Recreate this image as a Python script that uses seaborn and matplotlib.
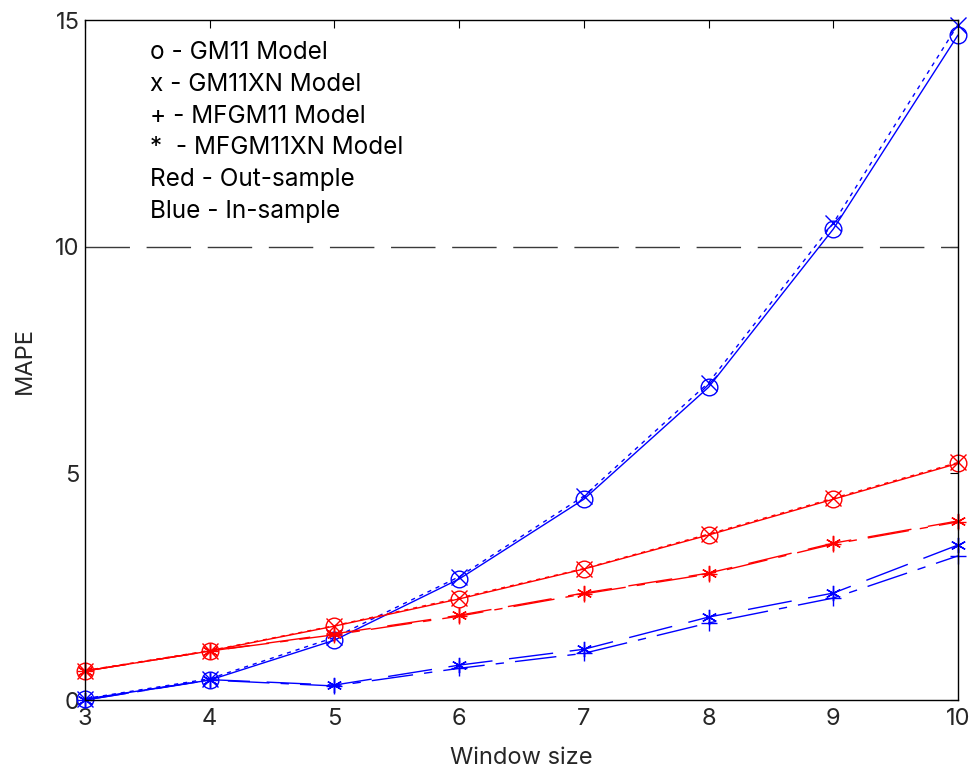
import matplotlib
matplotlib.use("Agg")
import matplotlib.pyplot as plt
import seaborn as sns

# --- Data ---
window = [3, 4, 5, 6, 7, 8, 9, 10]

# in-sample MAPE (blue)
in_gm11 = [0.02, 0.44, 1.32, 2.67, 4.43, 6.90, 10.39, 14.67]
in_gm11xn = [0.03, 0.47, 1.38, 2.72, 4.50, 7.00, 10.52, 14.90]
in_mfgm11 = [0.00, 0.44, 0.31, 0.70, 1.03, 1.70, 2.25, 3.18]
in_mfgm11xn = [0.00, 0.45, 0.33, 0.77, 1.12, 1.83, 2.36, 3.42]

# out-sample MAPE (red)
out_gm11 = [0.64, 1.08, 1.63, 2.23, 2.89, 3.64, 4.43, 5.22]
out_gm11xn = [0.65, 1.09, 1.64, 2.25, 2.90, 3.66, 4.45, 5.24]
out_mfgm11 = [0.64, 1.08, 1.44, 1.85, 2.34, 2.78, 3.44, 3.93]
out_mfgm11xn = [0.64, 1.08, 1.46, 1.87, 2.36, 2.80, 3.46, 3.95]

threshold = 10

notes = [
    "o - GM11 Model",
    "x - GM11XN Model",
    "+ - MFGM11 Model",
    "*  - MFGM11XN Model",
    "Red - Out-sample",
    "Blue - In-sample",
]

# --- Style ---
sns.set_style("white")
plt.rcParams["font.family"] = ["Inter", "DejaVu Sans"]
plt.rcParams["axes.linewidth"] = 1.0
plt.rcParams["xtick.direction"] = "in"
plt.rcParams["ytick.direction"] = "in"

fig = plt.figure(figsize=(9.76, 7.73), dpi=100)
ax = fig.add_axes([0.0871, 0.0944, 0.8945, 0.8797])

# marker -> line dash pattern, as in the MATLAB original
styles = {
    "o": "-",
    "x": (0, (3, 3.5)),
    "+": (0, (30, 8, 6, 8)),
    "*": (0, (32, 12)),
}
asterisk = (6, 2, 0)

series = [
    (in_gm11, "blue", "o"),
    (in_gm11xn, "blue", "x"),
    (in_mfgm11, "blue", "+"),
    (in_mfgm11xn, "blue", "*"),
    (out_gm11, "red", "o"),
    (out_gm11xn, "red", "x"),
    (out_mfgm11, "red", "+"),
    (out_mfgm11xn, "red", "*"),
]

for vals, col, mk in series:
    sns.lineplot(x=window, y=vals, ax=ax, color=col,
                 marker=asterisk if mk == "*" else mk,
                 linestyle=styles[mk], linewidth=1.0,
                 markersize=12 if mk in "o+" else 11,
                 markerfacecolor="none", markeredgecolor=col,
                 markeredgewidth=1.0, clip_on=False)

ax.axhline(threshold, color="#3a3a3a", linewidth=1.0, linestyle=(0, (32, 12)))

ax.set_xlim(3, 10)
ax.set_ylim(0, 15)
ax.set_xticks(window)
ax.set_yticks([0, 5, 10, 15])
ax.tick_params(axis="both", which="both", top=True, right=True, length=6,
               width=0.8, labelsize=17, color="black")
ax.tick_params(axis="x", pad=6)
ax.tick_params(axis="y", pad=4)
for s in ax.spines.values():
    s.set_color("black")
    s.set_visible(True)

ax.set_xlabel("Window size", fontsize=17, labelpad=12)
ax.set_ylabel("MAPE", fontsize=17, labelpad=14)

y0 = 59
for i, t in enumerate(notes):
    ypx = y0 + i * 31.8
    ax.text((150 - 85) / 873, (700 - ypx) / 680, t, transform=ax.transAxes,
            fontsize=17.5, va="baseline", ha="left", color="black")

fig.savefig("out.png", dpi=100, facecolor="white")
